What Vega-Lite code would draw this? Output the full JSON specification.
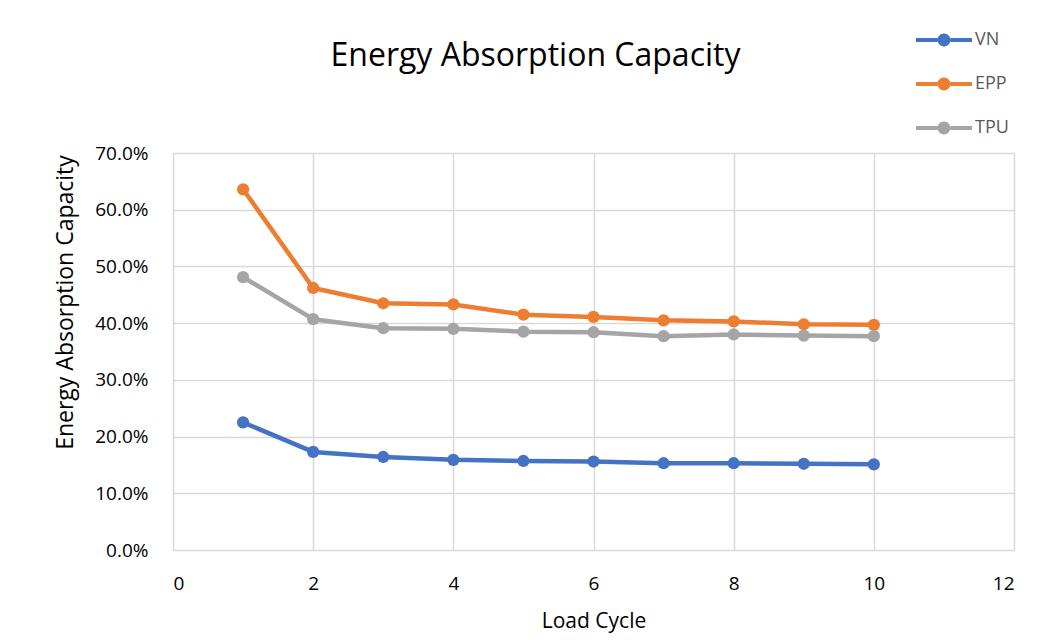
{
  "$schema": "https://vega.github.io/schema/vega-lite/v6.json",
  "autosize": {"type": "none"},
  "width": 841,
  "height": 397,
  "padding": {"left": 173, "top": 153, "right": 31, "bottom": 93},
  "background": "white",
  "title": {
    "text": "Energy Absorption Capacity",
    "font": "Open Sans",
    "fontSize": 32,
    "fontWeight": "normal",
    "color": "#000000",
    "anchor": "middle",
    "dx": -58,
    "offset": -47
  },
  "data": {
    "values": [
      {"cycle": 1, "series": "VN", "value": 0.225},
      {"cycle": 2, "series": "VN", "value": 0.173},
      {"cycle": 3, "series": "VN", "value": 0.164},
      {"cycle": 4, "series": "VN", "value": 0.159},
      {"cycle": 5, "series": "VN", "value": 0.157},
      {"cycle": 6, "series": "VN", "value": 0.156},
      {"cycle": 7, "series": "VN", "value": 0.153},
      {"cycle": 8, "series": "VN", "value": 0.153},
      {"cycle": 9, "series": "VN", "value": 0.152},
      {"cycle": 10, "series": "VN", "value": 0.151},
      {"cycle": 1, "series": "EPP", "value": 0.636},
      {"cycle": 2, "series": "EPP", "value": 0.462},
      {"cycle": 3, "series": "EPP", "value": 0.435},
      {"cycle": 4, "series": "EPP", "value": 0.433},
      {"cycle": 5, "series": "EPP", "value": 0.415},
      {"cycle": 6, "series": "EPP", "value": 0.411},
      {"cycle": 7, "series": "EPP", "value": 0.405},
      {"cycle": 8, "series": "EPP", "value": 0.403},
      {"cycle": 9, "series": "EPP", "value": 0.398},
      {"cycle": 10, "series": "EPP", "value": 0.397},
      {"cycle": 1, "series": "TPU", "value": 0.481},
      {"cycle": 2, "series": "TPU", "value": 0.407},
      {"cycle": 3, "series": "TPU", "value": 0.391},
      {"cycle": 4, "series": "TPU", "value": 0.390},
      {"cycle": 5, "series": "TPU", "value": 0.385},
      {"cycle": 6, "series": "TPU", "value": 0.384},
      {"cycle": 7, "series": "TPU", "value": 0.377},
      {"cycle": 8, "series": "TPU", "value": 0.380},
      {"cycle": 9, "series": "TPU", "value": 0.378},
      {"cycle": 10, "series": "TPU", "value": 0.377}
    ]
  },
  "encoding": {
    "x": {
      "field": "cycle",
      "type": "quantitative",
      "scale": {"domain": [0, 12], "nice": false},
      "axis": {
        "title": "Load Cycle",
        "values": [0, 2, 4, 6, 8, 10, 12],
        "format": "d",
        "domain": false,
        "ticks": false,
        "labelPadding": 24,
        "labelFont": "Open Sans",
        "labelFontSize": 19,
        "labelColor": "#000000",
        "titleFont": "Open Sans",
        "titleFontSize": 21,
        "titleFontWeight": "normal",
        "titleColor": "#000000",
        "titlePadding": 17,
        "grid": true,
        "gridColor": "#D9D9D9",
        "gridWidth": 1.5
      }
    },
    "y": {
      "field": "value",
      "type": "quantitative",
      "scale": {"domain": [0, 0.7], "nice": false},
      "axis": {
        "title": "Energy Absorption Capacity",
        "values": [0, 0.1, 0.2, 0.3, 0.4, 0.5, 0.6, 0.7],
        "format": ".1%",
        "domain": false,
        "ticks": false,
        "labelPadding": 25,
        "labelFont": "Open Sans",
        "labelFontSize": 19,
        "labelColor": "#000000",
        "titleFont": "Open Sans",
        "titleFontSize": 23,
        "titleFontWeight": "normal",
        "titleColor": "#000000",
        "titleX": -96,
        "titleY": 149,
        "grid": true,
        "gridColor": "#D9D9D9",
        "gridWidth": 1.5
      }
    },
    "color": {
      "field": "series",
      "type": "nominal",
      "scale": {"domain": ["VN", "EPP", "TPU"], "range": ["#4472C4", "#ED7D31", "#A5A5A5"]},
      "legend": {
        "title": null,
        "orient": "none",
        "legendX": 757,
        "legendY": -127,
        "padding": 0,
        "symbolType": "M-2,-0.14L-0.46,-0.14L-0.46,0.14L-2,0.14Z M0.46,-0.14L2,-0.14L2,0.14L0.46,0.14Z M-0.46,0A0.46,0.46 0 1,1 0.46,0A0.46,0.46 0 1,1 -0.46,0Z",
        "symbolSize": 784,
        "symbolStrokeWidth": 0,
        "symbolOpacity": 1,
        "labelOffset": 17,
        "labelFont": "Open Sans",
        "labelFontSize": 18,
        "labelColor": "#595959",
        "rowPadding": 21,
        "encode": {
          "symbols": {
            "update": {
              "fill": {"scale": "color", "field": "value"},
              "fillOpacity": {"value": 1},
              "strokeWidth": {"value": 0}
            }
          }
        }
      }
    }
  },
  "layer": [
    {
      "mark": {"type": "line", "strokeWidth": 4.5, "strokeJoin": "round"}
    },
    {
      "mark": {"type": "circle", "size": 150, "opacity": 1}
    }
  ]
}
